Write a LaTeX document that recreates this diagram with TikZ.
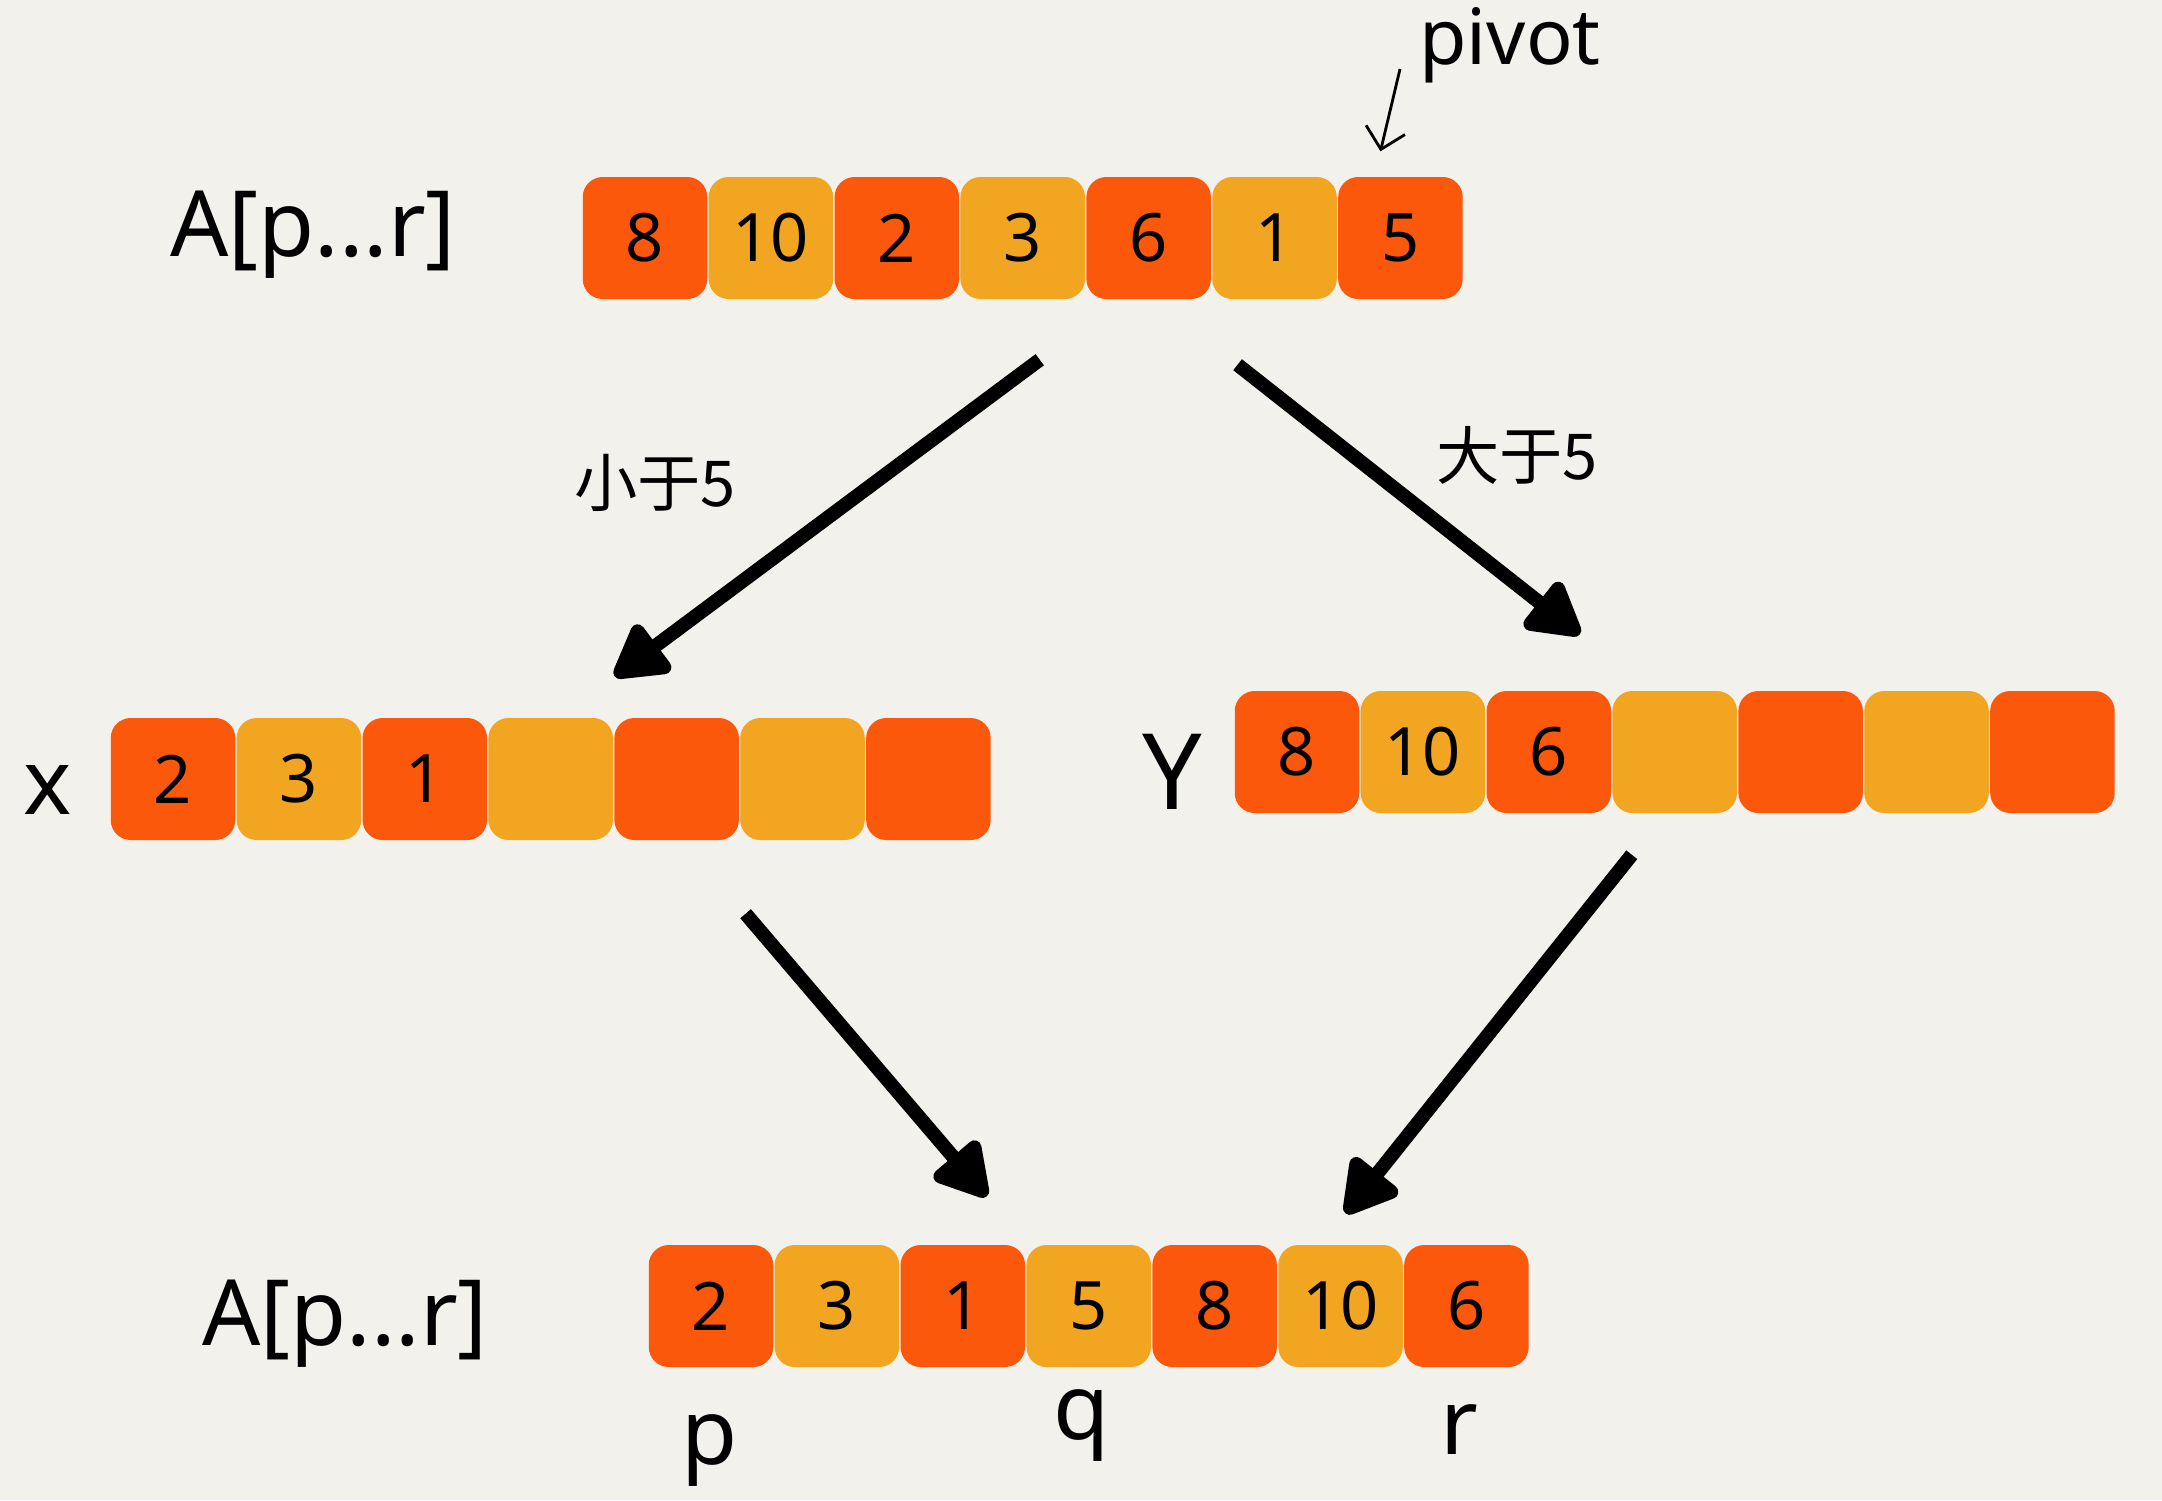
\documentclass[tikz,border=0pt]{standalone}
\usepackage{fontspec}
\setmainfont{Noto Sans}
\newfontfamily\cjk{Noto Sans CJK SC}
\usepackage{tikz}
\usetikzlibrary{arrows.meta,positioning,calc}
\usepackage{xcolor}
\definecolor{paper}{HTML}{F3F1EC}
\definecolor{redcell}{HTML}{FC580C}
\definecolor{yellowcell}{HTML}{F2A520}

\begin{document}
\begin{tikzpicture} [
      cell/.style = { inner sep = 0, minimum width = 1.245cm, minimum height = 1.22cm,
                      rounded corners = 0.2cm, font = \fontsize{19}{19}\selectfont },
      cellr/.style = { cell, fill = redcell },
      celly/.style = { cell, fill = yellowcell },
      label/.style = { font = \fontsize{26}{26}\selectfont },
      split/.style = { line width = 0.14cm, -{Triangle[length=0.6cm, width=0.65cm, round]} },
      cjklabel/.style = { font = \cjk\fontsize{18}{18}\selectfont }
      ]

      \fill[paper] (0,0) rectangle (21.62,-15);
      \useasboundingbox (0,0) rectangle (21.62,-15);

      % original array
      \node [cellr] (t1) at (6.45,-2.38) {8};
      \node [celly, right = 0pt of t1] (t2) {10};
      \node [cellr, right = 0pt of t2] (t3) {2};
      \node [celly, right = 0pt of t3] (t4) {3};
      \node [cellr, right = 0pt of t4] (t5) {6};
      \node [celly, right = 0pt of t5] (t6) {1};
      \node [cellr, right = 0pt of t6] (t7) {5};
      \node [label] (ta) at (3.13,-2.35) {A[p...r]};

      \node [label, font = \fontsize{22}{22}\selectfont] (pivot) at (15.1,-0.45) {pivot};
      \coordinate (pv) at (14.0,-0.69);
      \draw [thick, -{Straight Barb[length=0.2cm]}] (pv) -- ([xshift=-0.2cm, yshift=0.25cm]t7.north);

      % x: smaller than pivot
      \node [cellr] (l1) at (1.73,-7.79) {2};
      \node [celly, right = 0pt of l1] (l2) {3};
      \node [cellr, right = 0pt of l2] (l3) {1};
      \node [celly, right = 0pt of l3] (l4) {};
      \node [cellr, right = 0pt of l4] (l5) {};
      \node [celly, right = 0pt of l5] (l6) {};
      \node [cellr, right = 0pt of l6] (l7) {};
      \node [label] (lx) at (0.48,-7.9) {x};

      % Y: bigger than pivot
      \node [cellr] (r1) at (12.97,-7.52) {8};
      \node [celly, right = 0pt of r1] (r2) {10};
      \node [cellr, right = 0pt of r2] (r3) {6};
      \node [celly, right = 0pt of r3] (r4) {};
      \node [cellr, right = 0pt of r4] (r5) {};
      \node [celly, right = 0pt of r5] (r6) {};
      \node [cellr, right = 0pt of r6] (r7) {};
      \node [label, font = \fontsize{30}{30}\selectfont] (ry) at (11.72,-7.72) {Y};

      % merged array
      \node [cellr] (b1) at (7.11,-13.06) {2};
      \node [celly, right = 0pt of b1] (b2) {3};
      \node [cellr, right = 0pt of b2] (b3) {1};
      \node [celly, right = 0pt of b3] (b4) {5};
      \node [cellr, right = 0pt of b4] (b5) {8};
      \node [celly, right = 0pt of b5] (b6) {10};
      \node [cellr, right = 0pt of b6] (b7) {6};
      \node [label] (ba) at (3.45,-13.24) {A[p...r]};
      \node [label] (bp) at (7.10,-14.5) {p};
      \node [label] (bq) at (10.82,-14.25) {q};
      \node [label] (br) at (14.59,-14.3) {r};

      % arrows
      \draw [split] ($(t4.south)+(0.17,-0.6)$) -- ($(l5.north west)+(0.01,0.41)$);
      \draw [split] ($(t6.south west)+(0.26,-0.65)$) -- ($(r3.north)+(0.31,0.56)$);
      \draw [split] ($(l6.south west)+(0.06,-0.73)$) -- ($(b3.north)+(0.24,0.48)$);
      \draw [split] ($(r4.south west)+(0.2,-0.41)$) -- ($(b6.north)+(0.05,0.31)$);

      \node [cjklabel] (less) at (6.55,-4.83) {小于5};
      \node [cjklabel] (more) at (15.17,-4.55) {大于5};
    \end{tikzpicture}
\end{document}
